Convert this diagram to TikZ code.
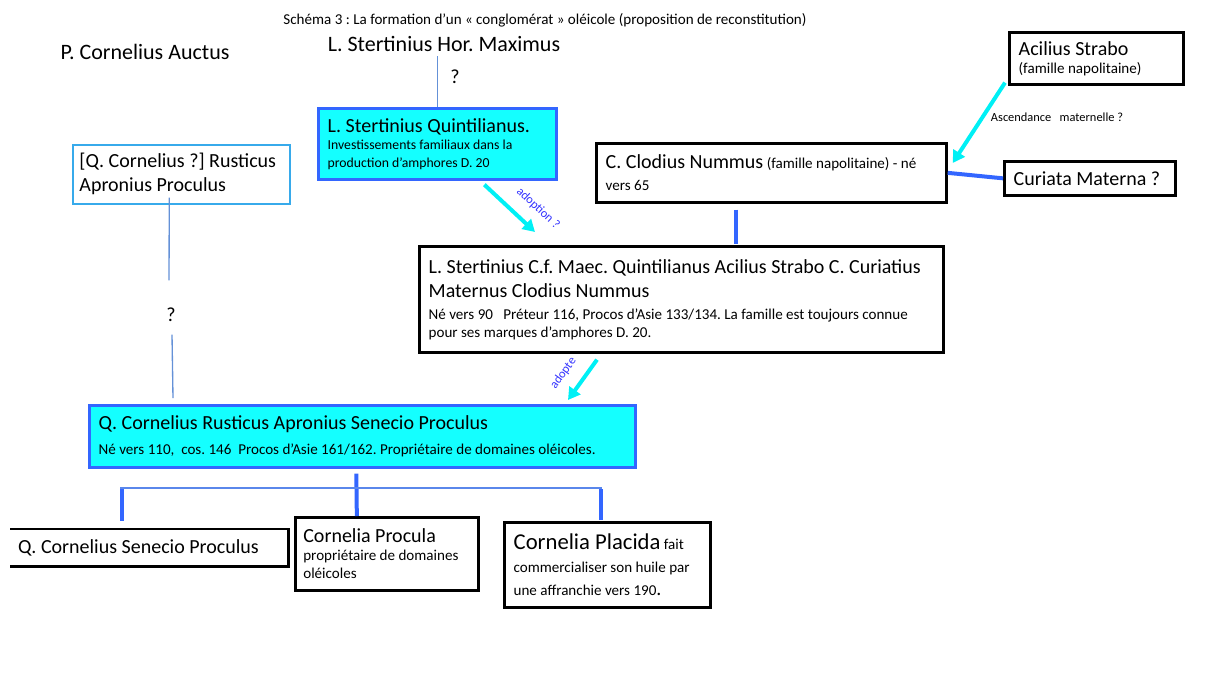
\documentclass[tikz,border=0pt]{standalone}
\usepackage{fontspec}
\setmainfont{Carlito}
\usetikzlibrary{arrows.meta,calc}
\definecolor{boxcyan}{RGB}{20,255,255}
\definecolor{boxblue}{RGB}{51,102,255}
\definecolor{thinblue}{RGB}{100,145,215}
\definecolor{forkblue}{RGB}{90,135,235}
\definecolor{rustblue}{RGB}{55,170,235}
\definecolor{arrowcyan}{RGB}{0,240,245}
\definecolor{labelblue}{RGB}{51,51,255}
\newcommand{\bigname}{\fontsize{16.5}{20}\selectfont}
\newcommand{\namefont}{\fontsize{15}{18}\selectfont}
\newcommand{\notefont}{\fontsize{11.3}{13.5}\selectfont}
\newcommand{\smallnote}{\fontsize{10.3}{12.75}\selectfont}
\newcommand{\tinyfont}{\fontsize{9.3}{11}\selectfont}
\frenchspacing

\begin{document}
\begin{tikzpicture}[x=0.75pt,y=-0.75pt,
    famille/.style={draw=black,line width=2pt,anchor=north west,align=flush left,inner xsep=7pt,font=\notefont},
    vedette/.style={famille,draw=boxblue,fill=boxcyan},
    lien/.style={draw=thinblue,line width=1pt},
    alliance/.style={draw=boxblue,line width=3pt},
    fourche/.style={draw=forkblue,line width=1.5pt},
    adoption/.style={draw=arrowcyan,line width=3pt,-{Triangle[length=9pt,width=10pt]}},
    note/.style={text=labelblue,font=\tinyfont,inner sep=1pt}]
    \useasboundingbox (0,0) rectangle (1205,675);
    \node (titre) at (545,20) {\fontsize{11.3}{13}\selectfont Schéma 3 : La formation d’un « conglomérat » oléicole (proposition de reconstitution)};
    \node (auctus) at (145,52) {\bigname P. Cornelius Auctus};
    \node (hormax) at (444,44) {\bigname L. Stertinius Hor. Maximus};
    \node (q1) at (455,77) {\namefont ?};
    \node [vedette,text width=164.5pt,minimum height=53.25pt] (quint) at (317,107)
      {{\namefont L. Stertinius Quintilianus.\par}\smallnote Investissements familiaux dans la\\production d’amphores D. 20};
    \node [famille,draw=rustblue,line width=1.2pt,inner xsep=5pt,text width=152.75pt,minimum height=44.25pt,font=\namefont] (rust) at (72,144)
      {[Q. Cornelius ?] Rusticus\\Apronius Proculus};
    \node (q2) at (171,315) {\namefont ?};
    \node [famille,text width=116.5pt,minimum height=39pt] (acil) at (1008,31)
      {{\namefont Acilius Strabo\par}(famille napolitaine)};
    \node [font=\tinyfont] (asc) at (1057,117) {Ascendance~~~maternelle ?};
    \node [famille,text width=248.5pt,minimum height=44.25pt] (clod) at (595,142)
      {{\namefont C. Clodius Nummus} (famille napolitaine) - né\\[3pt]vers 65};
    \node [famille,text width=114.25pt,minimum height=25.5pt,font=\namefont] (curi) at (1003,160) {Curiata Materna ?};
    \node [famille,text width=379pt,minimum height=79.5pt] (big) at (418,245)
      {{\namefont L. Stertinius C.f. Maec. Quintilianus Acilius Strabo C. Curiatius\\Maternus Clodius Nummus\par}\vspace{3pt}Né vers 90~~~Préteur 116, Procos d’Asie 133/134. La famille est toujours connue\\pour ses marques d’amphores D. 20.};
    \node [vedette,text width=395.5pt,minimum height=46.5pt] (sene) at (88,404)
      {{\namefont Q. Cornelius Rusticus Apronius Senecio Proculus\par}\vspace{5pt}Né vers 110,~ cos. 146~ Procos d’Asie 161/162. Propriétaire de domaines oléicoles.};
    \node [famille,draw=none,inner xsep=5pt,text width=197pt,minimum height=26.25pt,font=\namefont] (qsen) at (10,529) {Q. Cornelius Senecio Proculus};
    \node [famille,inner xsep=6pt,text width=125.25pt,minimum height=54.75pt] (proc) at (294,516)
      {{\namefont Cornelia Procula\par}propriétaire de domaines\\oléicoles};
    \node [famille,text width=140.5pt,minimum height=63.75pt] (plac) at (503,521)
      {{\fontsize{17}{20}\selectfont Cornelia Placida} fait\\[4pt]commercialiser son huile par\\[4pt]une affranchie vers 190{\namefont .}};
    \coordinate (forkL) at (120,488);
    \coordinate (forkR) at (602,488);
    \draw [line width=2pt] (qsen.north west) -- (qsen.north east) -- (qsen.south east) -- (qsen.south west);
    \draw [lien] (quint.north) -- (quint.north |- hormax.south);
    \draw [lien] ($(rust.south)+(-12,-7)$) -- ($(q2.north)+(-2,-23)$);
    \draw [lien] ($(q2.south)+(1,8)$) -- ($(sene.north west)+(85,-6)$);
    \path ($(quint.south)+(47,4)$) edge [adoption] node [pos=0.8,sloped,above=8pt,note] {adoption ?} ($(big.north west)+(117,-13)$);
    \path ($(big.south west)+(179,6)$) edge [adoption] node [pos=0.62,sloped,above=8pt,note] {adopte} ($(sene.north west)+(480,-4)$);
    \path ($(acil.south west)+(-3,-3)$) edge [adoption] ($(clod.north east)+(5,21)$);
    \draw [alliance] (clod.east) -- (curi.west);
    \draw [alliance] ($(clod.south)+(-35,6)$) -- ($(big.north)+(55,-1)$);
    \draw [alliance] ($(sene.south)+(-6,5)$) -- ($(proc.north)+(-30,0)$);
    \draw [fourche] (forkL) -- (forkR);
    \draw [alliance] ($(forkL)+(2,1)$) -- ($(qsen.north west)+(112,-8)$);
    \draw [alliance] ($(forkR)+(-1,1)$) -- ($(plac.north west)+(98,-1)$);
\end{tikzpicture}
\end{document}
